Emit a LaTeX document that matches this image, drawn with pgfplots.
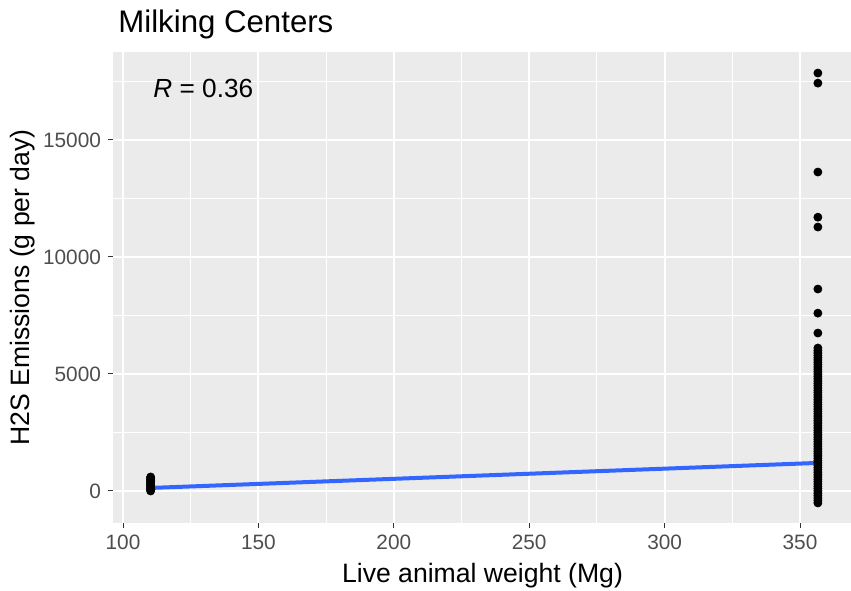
\documentclass[border=0pt]{standalone}
\usepackage{pgfplots}
\pgfplotsset{compat=1.18}
\usepackage{fontspec}
\setmainfont{Liberation Sans}
\definecolor{panelbg}{HTML}{EBEBEB}
\definecolor{ticklab}{HTML}{4D4D4D}
\definecolor{tickcol}{HTML}{333333}
\definecolor{smoothblue}{HTML}{3366FF}
\begin{document}
\begin{tikzpicture}
\begin{axis}[
  name=ax,
  scale only axis,
  width=369.5pt, height=235.5pt,
  xmin=96.3, xmax=369.2,
  ymin=-1368, ymax=18760,
  axis background/.style={fill=panelbg},
  axis line style={draw=none},
  xtick={100,150,200,250,300,350},
  ytick={0,5000,10000,15000},
  minor xtick={125,175,225,275,325},
  minor ytick={2500,7500,12500,17500},
  grid=both,
  major grid style={white, line width=1pt},
  minor grid style={white, line width=0.5pt},
  minor tick length=0pt,
  major tick length=2.5pt,
  tick align=outside,
  xtick pos=bottom, ytick pos=left,
  tick style={tickcol, line width=0.5pt},
  scaled y ticks=false,
  /pgf/number format/assume math mode=true,
  yticklabel style={/pgf/number format/fixed, /pgf/number format/1000 sep={}, font=\fontsize{10.4}{12}\selectfont, text=ticklab},
  xticklabel style={font=\fontsize{10.4}{12}\selectfont, text=ticklab},
  xlabel={Live animal weight (Mg)},
  ylabel={H2S Emissions (g per day)},
  label style={font=\fontsize{13.3}{16}\selectfont},
  ylabel style={yshift=-3pt},
  clip=false,
]
\addplot[only marks, mark=*, mark size=2pt, black] coordinates {
(110.2,0)(110.2,50)(110.2,100)(110.2,150)(110.2,200)(110.2,250)(110.2,300)(110.2,350)(110.2,400)(110.2,450)(110.2,500)(110.2,550)(110.2,600)
(356.6,-510)(356.6,-400)(356.6,-300)(356.6,-200)(356.6,-100)(356.6,0)(356.6,100)(356.6,200)(356.6,300)(356.6,400)(356.6,500)
(356.6,600)(356.6,700)(356.6,800)(356.6,900)(356.6,1000)(356.6,1100)(356.6,1200)(356.6,1300)(356.6,1400)(356.6,1500)
(356.6,1600)(356.6,1700)(356.6,1800)(356.6,1900)(356.6,2000)(356.6,2100)(356.6,2200)(356.6,2300)(356.6,2400)(356.6,2500)
(356.6,2600)(356.6,2700)(356.6,2800)(356.6,2900)(356.6,3000)(356.6,3100)(356.6,3200)(356.6,3300)(356.6,3400)(356.6,3500)
(356.6,3600)(356.6,3700)(356.6,3800)(356.6,3900)(356.6,4000)(356.6,4100)(356.6,4200)(356.6,4300)(356.6,4400)(356.6,4500)
(356.6,4600)(356.6,4700)(356.6,4800)(356.6,4900)(356.6,5000)(356.6,5100)(356.6,5200)(356.6,5300)(356.6,5400)(356.6,5500)
(356.6,5600)(356.6,5700)(356.6,5800)(356.6,5900)(356.6,6000)(356.6,6110)
(356.6,6750)(356.6,7600)(356.6,8630)(356.6,11280)(356.6,11700)(356.6,13630)(356.6,17430)(356.6,17860)
};
\addplot[smoothblue, line width=2pt] coordinates {(110.2,130)(356.6,1200)};
\node[anchor=west, font=\fontsize{13.1}{16}\selectfont, inner sep=0pt] at (axis cs:111.1,17200) {\textit{R} = 0.36};
\end{axis}
\node[anchor=base west, font=\fontsize{15.6}{18}\selectfont, inner sep=0pt] at ([xshift=2.5pt,yshift=9.5pt]ax.north west) {Milking Centers};
\pgfresetboundingbox
\path ([xshift=-56.5pt,yshift=-33.5pt]ax.south west) rectangle ++(425.5pt,295pt);
\end{tikzpicture}
\end{document}
